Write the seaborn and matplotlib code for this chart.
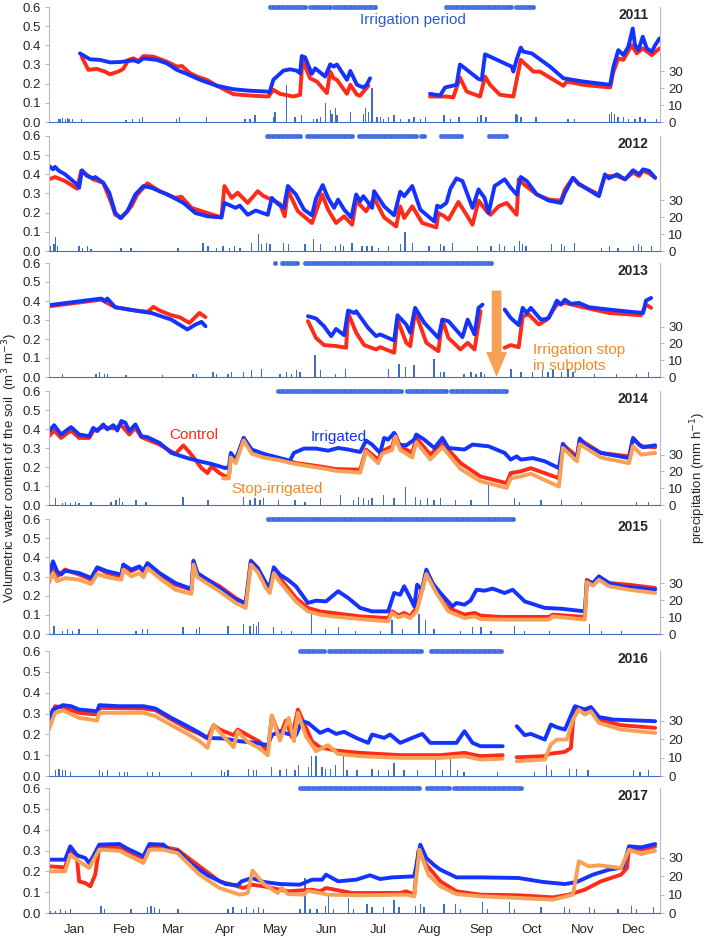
import pandas as pd
import matplotlib
matplotlib.use("Agg")
import matplotlib.pyplot as plt
import seaborn as sns

# ---- data (day of year, value); each inner list is one unbroken segment
years = [2011, 2012, 2013, 2014, 2015, 2016, 2017]
months = ['Jan', 'Feb', 'Mar', 'Apr', 'May', 'Jun', 'Jul', 'Aug', 'Sep', 'Oct', 'Nov', 'Dec']
month_start = [0, 31, 59, 90, 120, 151, 181, 212, 243, 273, 304, 334, 365]

irrigated_2011 = [
    [(18.5, .358), (24.5, .327), (30.5, .324), (36.5, .311), (42.5, .313), (50.5, .322), (53.4, .313), (56.4, .332),
     (64.4, .324), (70.4, .306), (76.4, .272), (82.4, .251), (90.3, .22), (100.3, .189), (110.2, .171), (120.2, .163),
     (130.1, .159), (131.7, .154), (134, .22), (140, .268), (144, .275), (148, .268), (150, .254), (151, .344),
     (153, .337), (157, .251), (159, .28), (165, .237), (168, .301), (170, .289), (172, .30), (178, .22), (180, .266),
     (184, .194), (187.8, .18), (189.8, .194), (191.8, .228)],
    [(227.6, .147), (233.6, .138), (236.6, .18), (243.5, .194), (245.5, .30), (248.5, .28), (256.5, .225), (258.5, .22),
     (260.5, .353), (263.5, .341), (276.4, .289), (277.4, .263), (279.4, .327), (281.8, .388), (283.4, .367),
     (288.4, .358), (299.3, .289), (307.3, .228), (319.2, .211), (335.2, .194), (337.2, .289), (340.1, .375),
     (343.1, .349), (346.1, .393), (348.7, .488), (350.1, .401), (352.1, .375), (354.7, .445), (357.1, .384),
     (360.1, .367), (362.1, .401), (364.7, .436)]]
control_2011 = [
    [(19.5, .341), (23.5, .272), (28.5, .277), (33.4, .263), (36.4, .249), (41.4, .263), (44.4, .277), (47.4, .324),
     (50.4, .332), (53.4, .318), (56.4, .344), (62.4, .341), (70.4, .315), (76.4, .289), (79.4, .292), (84.4, .254),
     (89.3, .234), (94.3, .22), (100.3, .189), (110.2, .145), (120.2, .138), (131.1, .133), (134, .168), (138, .147),
     (146, .133), (150, .142), (151.4, .324), (156, .228), (160, .211), (166, .151), (168, .263), (170, .228),
     (172, .22), (178, .147), (180, .194), (184, .142), (185.8, .137), (190.8, .189)],
    [(227.6, .133), (237.6, .133), (241.5, .128), (245.5, .232), (249.5, .159), (257.5, .133), (260.5, .237),
     (263.5, .194), (269.4, .142), (277.4, .133), (281.8, .324), (289.4, .263), (293.3, .263), (307.3, .189),
     (309.3, .211), (319.2, .194), (335.2, .18), (337.2, .263), (340.1, .332), (343.1, .324), (348.1, .401),
     (351.1, .358), (354.7, .384), (360.1, .349), (364.7, .384)]]

irrigated_2012 = [[
    (0, .444), (2.4, .426), (3.6, .439), (6, .418), (9.6, .40), (16.8, .347), (18, .33), (19.7, .421), (22.8, .391),
    (26.4, .379), (27.6, .386), (32.4, .356), (36, .304), (39.6, .198), (42.7, .172), (46.8, .207), (51.6, .295),
    (56.4, .339), (61.2, .33), (70.7, .295), (80.3, .251), (87.5, .198), (94.7, .181), (103, .175), (104.8, .251),
    (111.5, .225), (113.9, .237), (118.7, .189), (123.5, .211), (130.7, .189), (133.1, .277), (136.7, .246),
    (140.3, .225), (142.7, .339), (147.5, .295), (152.3, .216), (157.1, .186), (159.5, .274), (163.5, .344),
    (166.7, .277), (170.3, .225), (172.7, .268), (176.3, .216), (180.6, .175), (183.5, .295), (185.9, .26),
    (187.8, .286), (193, .225), (194.2, .312), (200.2, .233), (206.2, .186), (209.8, .309), (212.2, .286),
    (217, .339), (221.8, .216), (230.2, .154), (231.9, .237), (233.8, .228), (237.4, .251), (239.8, .325),
    (243.4, .379), (247, .365), (253, .225), (256.6, .321), (260.2, .277), (262.6, .198), (266.2, .339),
    (272.2, .374), (275.8, .33), (279.4, .295), (281.8, .386), (285.4, .365), (291.4, .295), (298.6, .263),
    (305.8, .251), (308.2, .304), (313, .382), (316.5, .351), (328.5, .286), (332.1, .40), (334.5, .379),
    (339.3, .40), (344.1, .374), (348.9, .421), (352.5, .40), (354.9, .426), (358.5, .418), (362.1, .382)]]
control_2012 = [[
    (0, .374), (3.6, .386), (9.6, .365), (16.8, .325), (19.2, .418), (26.4, .374), (32.4, .356), (37.2, .251),
    (39.6, .189), (43.2, .172), (49.2, .233), (52.8, .295), (58.8, .353), (66, .312), (75.5, .277), (79.1, .283),
    (85.1, .225), (94.7, .198), (103, .175), (104.8, .339), (109.1, .277), (112.7, .304), (118.7, .251),
    (124.7, .312), (128.3, .286), (133.1, .268), (137.9, .246), (140.8, .181), (142.7, .316), (148.7, .207),
    (157.1, .146), (163.1, .295), (166.7, .216), (171.5, .146), (176.3, .181), (181.1, .137), (183.5, .263),
    (189.4, .207), (194.2, .277), (200.2, .175), (207.4, .128), (209.8, .233), (212.2, .172), (217, .233),
    (223, .146), (231.4, .123), (232.6, .198), (236.2, .181), (238.6, .163), (244.6, .256), (250.6, .172),
    (253, .137), (256.6, .263), (261.4, .207), (263.8, .189), (268.6, .233), (273.4, .251), (279.4, .189),
    (280.6, .374), (284.2, .344), (291.4, .295), (298.6, .268), (305.8, .263), (308.2, .321), (313, .382),
    (316.5, .347), (328.5, .295), (332.1, .391), (339.3, .391), (344.1, .374), (348.9, .409), (352.5, .391),
    (354.9, .418), (358.5, .405), (362.1, .382)]]

irrigated_2013 = [
    [(0, .378), (31.2, .413), (33.6, .40), (34.8, .413), (39.6, .367), (54, .346), (61.2, .337), (73.1, .302),
     (82.7, .25), (87.5, .276), (91.1, .29), (93.5, .267)],
    [(154.7, .32), (159.5, .308), (164.3, .267), (168.6, .215), (171.5, .253), (176.3, .22), (178.7, .35),
     (182.3, .337), (183.5, .346), (190.6, .259), (195.4, .215), (197.8, .224), (206.2, .192), (208.2, .325),
     (213.4, .276), (215.8, .233), (218.7, .364), (224.2, .285), (232.6, .206), (235, .302), (238.6, .294),
     (247, .21), (250.1, .302), (254.2, .224), (256.6, .364), (259, .381)],
    [(272.2, .355), (275.8, .311), (280.6, .273), (283, .364), (285.4, .337), (287.8, .364), (293.8, .302),
     (297.4, .306), (298.6, .311), (303.4, .402), (305.8, .381), (308.2, .407), (311.8, .385), (316.6, .39),
     (322.6, .367), (334.5, .355), (344.1, .346), (354.9, .337), (356.6, .402), (359.7, .416)]]
control_2013 = [
    [(0, .372), (31.2, .407), (33.6, .395), (39.6, .367), (51.6, .35), (58.8, .343), (62.4, .369), (66, .35),
     (73.1, .325), (77.9, .315), (83.9, .285), (89.9, .337), (93.5, .315)],
    [(154.7, .294), (159.5, .206), (164.3, .168), (171.5, .163), (177.5, .154), (178.7, .337), (183.5, .233),
     (188.3, .168), (195.4, .145), (197.8, .157), (206.2, .128), (208.2, .302), (213.4, .18), (215.8, .163),
     (218.7, .346), (225.4, .18), (232.6, .136), (235, .302), (238.6, .206), (245.8, .145), (250.1, .18),
     (254.2, .145), (257.8, .346)],
    [(272.2, .154), (275.8, .168), (280.6, .157), (283, .32), (286.6, .329), (292.6, .276), (297.4, .302),
     (303.4, .381), (308.2, .39), (316.6, .372), (334.5, .337), (353.7, .325), (356.6, .381), (359.7, .364)]]

irrigated_2014 = [[
    (0, .389), (3.1, .42), (7.2, .371), (13.2, .41), (18, .371), (24, .362), (26.4, .406), (28.8, .389),
    (32.4, .424), (34.8, .398), (38.4, .42), (40.8, .392), (43.2, .442), (45.6, .433), (48, .389), (51.6, .424),
    (55.2, .362), (58.8, .357), (66, .327), (73.1, .274), (82.7, .247), (89.9, .23), (97.1, .216), (105.5, .194),
    (107.5, .20), (108.6, .274), (111.5, .239), (116.3, .353), (121.1, .292), (128.3, .269), (137.9, .247),
    (143.9, .233), (146.3, .274), (152.3, .297), (159.5, .297), (166.7, .286), (172.7, .30), (178.7, .292),
    (185.9, .279), (189.4, .339), (193, .318), (197.8, .274), (200.2, .353), (202.6, .344), (206.2, .38),
    (208.6, .318), (213.4, .314), (218.2, .344), (219.4, .371), (224.2, .344), (230.2, .30), (235, .353),
    (238.6, .30), (248.2, .292), (253, .318), (262.6, .309), (272.2, .274), (275.8, .239), (279.4, .256),
    (281.8, .239), (289, .247), (296.2, .23), (304.6, .194), (307, .322), (310.6, .274), (315.4, .247),
    (317.1, .35), (320.1, .318), (329.7, .274), (346.5, .247), (348.9, .353), (352.5, .318), (354.9, .304),
    (362.1, .314)]]
control_2014 = [[
    (0, .362), (3.1, .392), (7.2, .353), (13.2, .392), (18, .353), (24, .353), (26.4, .389), (32.4, .41),
    (38.4, .403), (43.2, .42), (48, .371), (51.6, .406), (55.2, .357), (66, .318), (75.5, .269), (80.3, .314),
    (85.1, .265), (91.1, .194), (94.7, .168), (97.1, .203), (101.9, .168), (105.5, .15), (107.5, .15),
    (108.6, .256), (111.5, .23), (116.3, .353), (121.1, .283), (128.3, .256), (137.9, .244), (147.5, .221),
    (161.9, .203), (171.5, .189), (185.9, .186), (189.4, .292), (196.6, .239), (199, .283), (205, .309),
    (207, .371), (209.8, .309), (217, .274), (219.4, .353), (227.8, .265), (235, .327), (245.8, .221),
    (257.8, .15), (273.4, .115), (275.8, .168), (281.8, .177), (287.8, .194), (304.6, .141), (307, .318),
    (315.4, .256), (317.1, .344), (329.7, .274), (346.5, .256), (348.9, .35), (353.7, .309), (362.1, .304)]]
stop_2014 = [[
    (104, .14), (107.5, .14), (108.6, .25), (111.5, .22), (116.3, .34), (121.1, .27), (128.3, .25), (137.9, .235),
    (147.5, .215), (161.9, .195), (171.5, .18), (185.9, .17), (189.4, .283), (196.6, .22), (199, .27), (205, .29),
    (207, .36), (209.8, .29), (217, .25), (219.4, .33), (227.8, .24), (235, .305), (245.8, .19), (257.8, .125),
    (273.4, .09), (275.8, .14), (281.8, .15), (287.8, .165), (304.6, .097), (307, .30), (315.4, .23), (317.1, .32),
    (329.7, .25), (346.5, .22), (348.9, .31), (353.7, .265), (362.1, .274)]]

irrigated_2015 = [[
    (0, .31), (2.4, .379), (4.8, .327), (7.2, .31), (9.6, .33), (18, .318), (25.2, .292), (28.8, .348), (34.8, .327),
    (43.2, .31), (44.4, .362), (49.2, .336), (54, .353), (56.4, .33), (58.8, .37), (66, .318), (75.5, .266),
    (85.1, .235), (86.3, .379), (88.7, .318), (101.9, .24), (111.5, .179), (117.5, .162), (120.6, .379),
    (124.7, .344), (129.5, .266), (131.9, .249), (134.3, .348), (137.9, .31), (142.7, .283), (147.5, .249),
    (154.7, .162), (159.5, .174), (165.5, .17), (172.7, .223), (178.7, .188), (185.9, .136), (189.4, .127),
    (193, .118), (202.6, .118), (206.2, .214), (209.8, .205), (212.2, .249), (215.8, .188), (218.2, .144),
    (219.9, .257), (223, .231), (225.4, .336), (229, .266), (233.8, .214), (241, .144), (243.4, .162),
    (248.2, .153), (251.8, .174), (255.4, .231), (260.2, .226), (265, .237), (272.2, .214), (277, .231),
    (284.2, .17), (296.2, .136), (305.8, .132), (320.1, .118), (321.3, .275), (325, .266), (328.5, .301),
    (334.5, .266), (341.7, .249), (362.1, .231)]]
control_2015 = [[
    (0, .30), (2.4, .353), (4.8, .30), (9.6, .336), (18, .31), (25.2, .283), (28.8, .344), (34.8, .318), (43.2, .30),
    (44.4, .362), (49.2, .327), (54, .348), (56.4, .327), (58.8, .365), (66, .31), (75.5, .257), (85.1, .231),
    (86.3, .383), (88.7, .313), (101.9, .249), (111.5, .188), (117.5, .157), (120.6, .383), (124.7, .344),
    (129.5, .266), (131.9, .243), (134.3, .336), (137.9, .292), (147.5, .188), (154.7, .136), (161.9, .118),
    (169.1, .11), (185.9, .092), (202.6, .083), (205, .118), (208.6, .097), (212.2, .11), (215.8, .092),
    (219.4, .136), (221.3, .188), (225.4, .327), (231.4, .231), (238.6, .136), (248.2, .101), (254.2, .11),
    (257.8, .096), (269.8, .089), (298.6, .089), (301, .101), (320.1, .089), (321.3, .283), (325, .263),
    (328.5, .296), (334.5, .266), (346.5, .257), (362.1, .24)]]
stop_2015 = [[
    (0, .266), (2.4, .318), (4.8, .275), (9.6, .292), (18, .283), (25.2, .261), (28.8, .313), (34.8, .296),
    (43.2, .283), (44.4, .336), (49.2, .30), (54, .318), (56.4, .296), (58.8, .344), (66, .292), (75.5, .231),
    (85.1, .209), (86.3, .362), (88.7, .296), (101.9, .223), (111.5, .162), (117.5, .136), (120.6, .362),
    (124.7, .323), (129.5, .24), (131.9, .214), (134.3, .318), (137.9, .271), (147.5, .17), (154.7, .118),
    (161.9, .101), (169.1, .092), (185.9, .078), (202.6, .066), (205, .11), (208.6, .087), (212.2, .097),
    (215.8, .083), (219.4, .115), (221.3, .17), (225.4, .313), (231.4, .214), (238.6, .118), (248.2, .083),
    (254.2, .092), (257.8, .078), (269.8, .075), (298.6, .075), (301, .092), (320.1, .075), (321.3, .271),
    (325, .252), (328.5, .283), (334.5, .249), (346.5, .231), (362.1, .214)]]

irrigated_2016 = [
    [(0, .271), (2.4, .319), (8.4, .34), (13.2, .335), (18, .319), (28.8, .311), (30, .34), (42, .335), (56.4, .335),
     (63.5, .324), (73.1, .279), (82.7, .239), (89.9, .207), (94.7, .183), (104.3, .18), (113.9, .167),
     (123.5, .159), (130.7, .148), (133.1, .196), (137.9, .215), (142.7, .202), (147.5, .196), (151.1, .263),
     (154.7, .255), (161.9, .207), (166.7, .223), (171.5, .202), (176.3, .212), (183.5, .183), (190.6, .159),
     (193, .199), (200.2, .183), (203.8, .199), (209.8, .159), (217, .183), (223, .202), (227.8, .159),
     (243.4, .159), (248.2, .215), (253, .159), (257.8, .143), (271, .143)],
    [(279.4, .239), (284.2, .196), (287.8, .202), (296.2, .175), (299.8, .247), (303.4, .234), (308.2, .223),
     (314.2, .335), (320.1, .319), (323.7, .331), (328.5, .283), (336.9, .271), (362.1, .263)]]
control_2016 = [
    [(0, .247), (3.6, .335), (8.4, .329), (18, .303), (28.8, .295), (30, .327), (56.4, .324), (63.5, .316),
     (73.1, .271), (82.7, .228), (89.9, .202), (94.7, .18), (98.3, .244), (101.9, .223), (110.3, .196),
     (112.7, .223), (118.7, .196), (125.9, .164), (130.7, .116), (133.1, .287), (137.9, .191), (141.5, .266),
     (145.1, .186), (148.7, .319), (152.3, .255), (157.1, .167), (161.9, .138), (171.5, .122), (185.9, .111),
     (209.8, .10), (233.8, .10), (248.2, .111), (257.8, .095), (271, .10)],
    [(279.4, .09), (296.2, .095), (298.6, .106), (308.2, .116), (311.8, .135), (313.7, .327), (319, .319),
     (323.7, .319), (328.5, .271), (341.7, .244), (362.1, .231)]]
stop_2016 = [
    [(0, .223), (3.6, .303), (8.4, .315), (18, .279), (28.8, .266), (30, .303), (56.4, .303), (63.5, .287),
     (73.1, .244), (82.7, .202), (89.9, .167), (94.7, .135), (98.3, .244), (101.9, .212), (110.3, .138),
     (112.7, .215), (118.7, .164), (125.9, .132), (130.7, .10), (133.1, .292), (137.9, .17), (143.2, .279),
     (146.3, .167), (148.7, .303), (153.5, .191), (159.5, .119), (166.7, .148), (172.7, .106), (185.9, .095),
     (209.8, .087), (233.8, .087), (248.2, .095), (257.8, .079), (271, .083)],
    [(279.4, .071), (296.2, .079), (299.8, .151), (303.4, .175), (309.4, .175), (313, .271), (316.5, .319),
     (320.1, .295), (323.7, .311), (328.5, .255), (341.7, .223), (362.1, .207)]]

irrigated_2017 = [[
    (0, .256), (9.6, .256), (12.7, .32), (16.8, .277), (21.6, .264), (24, .24), (26.4, .272), (30, .328), (42, .331),
    (46.8, .309), (56.4, .272), (60, .331), (68.3, .328), (73.1, .296), (76.7, .299), (85.1, .235), (94.7, .181),
    (105.5, .139), (112.7, .133), (115.1, .152), (121.1, .168), (128.3, .149), (137.9, .139), (149.9, .136),
    (157.1, .16), (163.1, .16), (165.5, .184), (172.7, .152), (183.5, .16), (191.8, .181), (197.8, .163),
    (205, .171), (218.2, .176), (221.8, .328), (225.4, .264), (230.2, .229), (233.8, .208), (243.4, .171),
    (257.8, .171), (280.6, .168), (295, .149), (308.2, .139), (315.3, .149), (324.9, .184), (334.5, .208),
    (342.9, .219), (346.5, .32), (353.7, .315), (362.1, .331)]]
control_2017 = [[
    (0, .224), (9.6, .219), (12.7, .304), (16.8, .256), (18, .152), (21.6, .144), (24.7, .128), (27.6, .184),
    (30, .312), (42, .312), (56.4, .264), (60, .312), (68.3, .317), (76.7, .304), (89.9, .224), (101.9, .152),
    (116.3, .12), (121.1, .136), (128.3, .128), (142.7, .104), (157.1, .112), (161.9, .104), (165.5, .12),
    (181.1, .096), (209.8, .096), (213.4, .104), (218.2, .088), (220.6, .296), (225.4, .232), (233.8, .152),
    (243.4, .104), (257.8, .088), (280.6, .085), (301.1, .075), (310.6, .088), (320.1, .112), (329.7, .152),
    (341.7, .184), (345.3, .216), (346.5, .312), (353.7, .304), (362.1, .32)]]
stop_2017 = [[
    (0, .20), (9.6, .20), (12.7, .28), (18, .248), (24, .216), (30, .304), (42, .299), (56.4, .24), (60, .304),
    (68.3, .304), (76.7, .288), (89.9, .184), (101.9, .12), (113.9, .088), (118.7, .096), (121.6, .203),
    (128.3, .139), (136.7, .096), (139.1, .12), (142.7, .091), (152.3, .088), (154.7, .107), (166.7, .088),
    (185.9, .085), (213.4, .088), (218.2, .08), (221.3, .304), (226.6, .184), (233.8, .128), (243.4, .091),
    (257.8, .08), (280.6, .072), (301.1, .064), (313, .088), (316.5, .248), (322.5, .224), (328.5, .229),
    (341.7, .216), (346.5, .304), (353.7, .283), (362.1, .299)]]

# precipitation (day of year, mm h-1)
rain_2011 = [(6, 2), (7, 2), (8, 2.5), (10, 2), (11, 2.5), (12, 2), (14, 2), (19.5, 2), (46, 1), (50, 1.5), (54, 2),
             (56, 3), (76, 2), (78, 3), (94, 3), (117, 2), (120, 1.5), (123, 4), (134, 3), (135, 6), (142, 22),
             (147, 3), (151, 4), (158, 2), (160, 2), (162, 3), (165, 11), (168, 7), (169, 5), (171, 8), (172, 4),
             (180, 6), (188, 5), (189, 8), (191, 6), (193, 20), (196, 3), (198, 3), (200, 2), (203, 3), (206, 4),
             (210, 2), (215, 2), (218, 3), (222, 2), (225, 3), (236, 4), (240, 2), (245, 3), (256, 3), (258, 4),
             (261, 3), (279, 5), (280, 4), (282, 3), (291, 3), (310, 2), (314, 2), (335, 5), (336, 6), (338, 5),
             (340, 3), (343, 3), (346, 2), (350, 2), (353, 3), (356, 2), (363, 2)]
rain_2012 = [(1, 3), (3, 4), (4, 8), (5, 3), (18, 3), (20, 2), (23, 3), (25, 1), (43, 2), (49, 2), (77, 2), (92, 5),
             (95, 3), (100, 2), (104, 3), (108, 2), (111, 3), (114, 2), (121, 5), (125, 10), (127, 4), (130, 5),
             (132, 4), (140, 5), (143, 4), (153, 4), (158, 7), (162, 4), (171, 3), (174, 4), (176, 3), (181, 5),
             (187, 3), (190, 3), (193, 3), (197, 2), (203, 3), (210, 4), (212.7, 11), (217, 5), (227, 3), (234, 4),
             (236, 3), (241, 5), (256, 3), (264, 3), (269, 4), (272, 3), (278, 3), (281, 6), (283, 4), (285, 3),
             (300, 4), (306, 4), (308, 3), (314, 5), (330, 2), (335, 3), (340, 2), (349, 3), (352, 4), (354, 3),
             (360, 3)]
rain_2013 = [(8, 2), (28, 2), (30, 3), (33, 2), (35, 2), (46, 1), (68, 1), (86, 2), (88, 2), (98, 3), (100, 2),
             (107, 2), (109, 3), (116, 3), (121, 4), (127, 5), (138, 2), (142, 3), (145, 2), (148, 4), (150, 3),
             (159, 13), (162, 4), (171, 2), (177, 5), (203, 5), (209, 8), (213, 6), (218, 7), (230, 11), (234, 3),
             (236, 3), (248, 2), (252, 3), (255, 2), (258, 3), (260, 2), (276, 5), (282, 3), (289, 3), (295, 4),
             (298, 3), (301, 5), (306, 3), (310, 5), (313, 3), (326, 2), (339, 2), (351, 2), (358, 3)]
rain_2014 = [(4, 4), (8, 1), (10, 2), (13, 1), (16, 2), (18, 1), (25, 2), (37, 2), (40, 3), (42, 4), (44, 2), (52, 3),
             (58, 2), (80, 5), (95, 3), (116, 5), (120, 3), (123, 4), (126, 3), (128, 4), (137, 3), (147, 3),
             (153, 2), (162, 4), (174, 6), (182, 3), (185, 5), (188, 4), (191, 3), (193, 4), (200, 6), (206, 4),
             (213, 11), (219, 5), (222, 3), (226, 4), (230, 3), (234, 4), (243, 3), (252, 3), (262.6, 13), (278, 4),
             (281, 2), (294, 3), (306, 3), (318, 2), (351, 2), (358, 2)]
rain_2015 = [(3, 5), (8, 2), (11, 3), (14, 2), (18, 3), (29, 3), (52, 2), (56, 3), (59, 3), (80, 4), (88, 3), (90, 4),
             (107, 5), (116, 6), (120, 5), (122, 6), (124, 5), (125, 7), (134, 4), (139, 2), (145, 2), (157, 13),
             (165, 3), (173, 4), (183, 2), (198, 2), (205, 8), (211, 3), (221, 12), (225, 8), (230, 3), (246, 2),
             (253, 4), (258, 4), (264, 2), (278, 5), (284, 2), (299, 2), (323, 6), (330, 2), (342, 2)]
rain_2016 = [(4, 3), (6, 4), (8, 3), (10, 3), (13, 2), (30, 3), (32, 2), (35, 3), (42, 2), (45, 2), (47, 2), (59, 2),
             (62, 2), (66, 2), (85, 2), (103, 3), (105, 2), (107, 3), (119, 4), (122, 3), (124, 3), (133, 5),
             (138, 3), (142, 4), (147, 3), (149, 6), (155, 5), (157, 11), (159.5, 11), (163, 5), (165, 4), (168, 4),
             (171, 6), (176, 13), (178, 3), (184, 3), (193, 4), (197, 3), (203, 3), (206, 7), (212, 3), (220, 3),
             (231, 9), (235, 3), (240, 9), (244, 3), (248, 2), (268, 2), (290, 2), (297, 6), (300, 3), (311, 4),
             (315, 4), (322, 3), (349, 3), (353, 2), (358, 3)]
rain_2017 = [(1, 1), (4, 1), (7, 2), (10, 1), (13, 2), (31, 4), (33, 2), (49, 2), (59, 3), (61, 4), (63, 3), (66, 2),
             (77, 2), (107, 2), (110, 3), (115, 2), (118, 3), (122, 2), (125, 3), (128, 2), (150, 2), (153, 19),
             (156, 2), (160, 2), (165, 4), (167, 11), (170, 2), (179, 8), (182, 2), (190, 5), (193, 3), (200, 3),
             (206, 7), (209, 3), (219, 4), (222, 5), (224, 3), (236, 5), (243, 5), (246, 2), (259, 6), (262, 2),
             (275, 6), (278, 2), (294, 3), (308, 3), (311, 2), (323, 3), (326, 2), (340, 2), (348, 4), (351, 2),
             (361, 3)]

# irrigation periods (first day, last day)
irrig_periods = {
    2011: [(132, 153), (156, 168), (170, 195), (237, 276), (279, 289)],
    2012: [(130, 150), (154, 181), (185, 219), (222, 224), (234, 246), (263, 273)],
    2013: [(135, 135), (139, 148), (153, 264)],
    2014: [(137, 210), (214, 237), (240, 273)],
    2015: [(131, 277)],
    2016: [(150, 164), (167, 222), (228, 270)],
    2017: [(150, 221), (226, 239), (242, 282)],
}

control = {2011: control_2011, 2012: control_2012, 2013: control_2013, 2014: control_2014,
           2015: control_2015, 2016: control_2016, 2017: control_2017}
irrigated = {2011: irrigated_2011, 2012: irrigated_2012, 2013: irrigated_2013, 2014: irrigated_2014,
             2015: irrigated_2015, 2016: irrigated_2016, 2017: irrigated_2017}
stopped = {2014: stop_2014, 2015: stop_2015, 2016: stop_2016, 2017: stop_2017}
rain = {2011: rain_2011, 2012: rain_2012, 2013: rain_2013, 2014: rain_2014,
        2015: rain_2015, 2016: rain_2016, 2017: rain_2017}

# panel extents in pixels (top = 0.6, bottom = 0.0)
panel_px = [(7, 122), (136, 251), (263, 377), (391, 505), (519, 634), (651, 776), (788, 913)]

RED = '#ff2a17'
BLUE = '#1433ff'
ORANGE = '#f7a157'
RAIN = '#3f6fc4'
palette = {'Control': RED, 'Irrigated': BLUE, 'Stop-irrigated': ORANGE}

sns.set_style("white")
plt.rcParams['font.family'] = ['Liberation Sans', 'DejaVu Sans']
plt.rcParams['font.size'] = 9

W, H = 709, 938
fig = plt.figure(figsize=(W / 100, H / 100), dpi=100)

for i, yr in enumerate(years):
    top, bot = panel_px[i]
    ax = fig.add_axes([49 / W, 1 - bot / H, 611 / W, (bot - top) / H])
    ax2 = ax.twinx()
    ax.set_zorder(ax2.get_zorder() + 1)
    ax.patch.set_visible(False)

    # precipitation bars
    rdf = pd.DataFrame(rain[yr], columns=['day', 'mm'])
    ax2.bar(rdf['day'], rdf['mm'], width=0.8, color=RAIN, linewidth=0)
    ax2.set_ylim(0, 68)
    ax2.set_yticks([0, 10, 20, 30])
    ax2.tick_params(axis='y', length=3, width=0.6, color='#aaaaaa', labelsize=9.5, pad=3)
    for s in ['top', 'left', 'bottom']:
        ax2.spines[s].set_visible(False)
    ax2.spines['right'].set_color('#bbbbbb')
    ax2.spines['right'].set_linewidth(0.8)

    # soil water content lines
    rows = []
    for name, src in [('Control', control), ('Irrigated', irrigated), ('Stop-irrigated', stopped)]:
        if yr not in src:
            continue
        for k, seg in enumerate(src[yr]):
            for d, v in seg:
                rows.append((d, v, name, f'{name}{k}'))
    df = pd.DataFrame(rows, columns=['day', 'vwc', 'treatment', 'seg'])
    sns.lineplot(data=df, x='day', y='vwc', hue='treatment', units='seg', estimator=None, sort=False,
                 hue_order=['Control', 'Irrigated', 'Stop-irrigated'], palette=palette,
                 linewidth=2.8, legend=False, ax=ax)

    # irrigation period dots
    dots = []
    for a, b in irrig_periods[yr]:
        dots += list(range(a, b + 1))
    ax.scatter(dots, [0.6] * len(dots), s=11, color='#3b66dd', edgecolor='#6a8ff0', linewidth=0.3,
               clip_on=False, zorder=6)

    ax.set_xlim(0, 365)
    ax.set_ylim(0, 0.6)
    ax.set_yticks([0, .1, .2, .3, .4, .5, .6])
    ax.set_yticklabels(['0.0', '0.1', '0.2', '0.3', '0.4', '0.5', '0.6'])
    ax.set_xticks(month_start)
    ax.set_xticklabels([])
    ax.set_xticks([(month_start[m] + month_start[m + 1]) / 2 for m in range(12)], minor=True)
    ax.tick_params(axis='x', which='major', length=3, width=0.6, color='#999999', direction='out')
    ax.tick_params(axis='x', which='minor', length=0, labelsize=9.5, pad=8)
    ax.tick_params(axis='y', length=3, width=0.6, color='#aaaaaa', labelsize=9.5, pad=3)
    if i == len(years) - 1:
        ax.set_xticklabels(months, minor=True)
    else:
        ax.set_xticklabels([], minor=True)
    ax.set_xlabel('')
    ax.set_ylabel('')
    ax.spines['top'].set_visible(False)
    ax.spines['right'].set_visible(False)
    ax.spines['left'].set_color('#bbbbbb')
    ax.spines['left'].set_linewidth(0.8)
    ax.spines['bottom'].set_color(RAIN)
    ax.spines['bottom'].set_linewidth(0.8)

    ax.text(358, 0.56, str(yr), ha='right', va='center', fontsize=10, fontweight='bold')

    if yr == 2011:
        ax.text(186, 0.53, 'Irrigation period', color='#2a5bd7', fontsize=11, va='center')
    if yr == 2013:
        ax.annotate('', xy=(267.4, 0.0), xytext=(267.4, 0.455),
                    arrowprops=dict(width=7, headwidth=15, headlength=18, color=ORANGE, shrink=0, lw=0))
        ax.text(289, 0.10, 'Irrigation stop\nin subplots', color='#f08a24', fontsize=11,
                va='center', linespacing=1.15)
    if yr == 2014:
        ax.text(72, 0.368, 'Control', color=RED, fontsize=11, va='center')
        ax.text(156, 0.36, 'Irrigated', color=BLUE, fontsize=11, va='center')
        ax.text(109, 0.084, 'Stop-irrigated', color='#f08a24', fontsize=11, va='center')

fig.text(10 / W, 1 - 468 / H, 'Volumetric water content of the soil  (m$^3$ m$^{-3}$)',
         rotation=90, ha='center', va='center', fontsize=9.5)
fig.text(698 / W, 1 - 478 / H, 'precipitation (mm h$^{-1}$)',
         rotation=90, ha='center', va='center', fontsize=9.5)

fig.savefig('out.png', dpi=100)
